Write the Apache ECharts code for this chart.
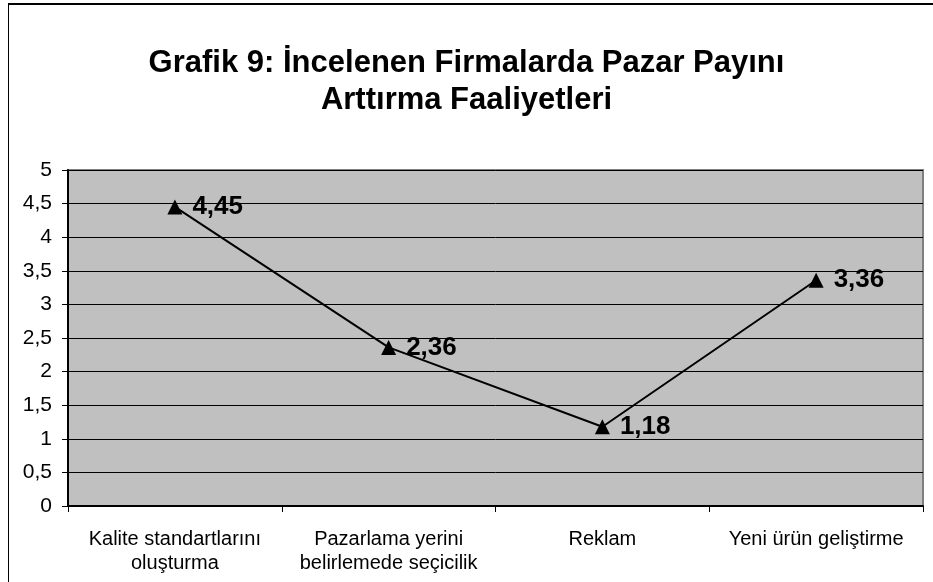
<!DOCTYPE html>
<html>
<head>
<meta charset="utf-8">
<script src="https://cdn.jsdelivr.net/npm/echarts@6/dist/echarts.min.js"></script>
<style>
  html, body { margin: 0; padding: 0; background: #fff; }
  #frame { position: absolute; left: 8px; top: 3px; width: 940px; height: 600px;
           border-left: 1px solid #000; border-top: 2px solid #000; box-sizing: border-box; }
  #chart { position: absolute; left: 0; top: 0; width: 933px; height: 582px; }
</style>
</head>
<body>
<div id="frame"></div>
<div id="chart"></div>
<script>
const categories = ['Kalite standartlarını\noluşturma', 'Pazarlama yerini\nbelirlemede seçicilik', 'Reklam', 'Yeni ürün geliştirme'];
const values = [4.45, 2.36, 1.18, 3.36];
const titleText = 'Grafik 9: İncelenen Firmalarda Pazar Payını\nArttırma Faaliyetleri';

const comma = v => String(v).replace('.', ',');

const chart = echarts.init(document.getElementById('chart'));
chart.setOption({
    animation: false,
    textStyle: { fontFamily: 'Liberation Sans, Arial, sans-serif' },
    title: {
        text: titleText,
        left: 'center',
        top: 40,
        textStyle: { fontSize: 31, fontWeight: 'bold', color: '#000', lineHeight: 37,
                     fontFamily: 'Liberation Sans, Arial, sans-serif' }
    },
    grid: {
        left: 68, right: 10, top: 170, bottom: 76,
        show: true, backgroundColor: '#c0c0c0', borderColor: '#808080', borderWidth: 2
    },
    xAxis: {
        type: 'category',
        data: categories,
        boundaryGap: true,
        axisLine: { lineStyle: { color: '#000', width: 2 } },
        axisTick: { show: true, length: 6, lineStyle: { color: '#000' } },
        axisLabel: { color: '#000', fontSize: 20, margin: 21, lineHeight: 24, interval: 0 }
    },
    yAxis: {
        type: 'value',
        min: 0, max: 5, interval: 0.5,
        axisLine: { show: true, lineStyle: { color: '#000', width: 2 } },
        axisTick: { show: true, length: 6, lineStyle: { color: '#000' } },
        axisLabel: { color: '#000', fontSize: 21, margin: 16, formatter: v => comma(v) },
        splitLine: { lineStyle: { color: '#000', width: 1 } }
    },
    series: [{
        type: 'line',
        data: values,
        symbol: 'triangle',
        symbolSize: 15,
        itemStyle: { color: '#000' },
        lineStyle: { color: '#000', width: 2 },
        label: {
            show: true, position: 'right', distance: 10,
            fontSize: 26, fontWeight: 'bold', color: '#000',
            formatter: p => comma(p.value)
        }
    }]
});
</script>
</body>
</html>
